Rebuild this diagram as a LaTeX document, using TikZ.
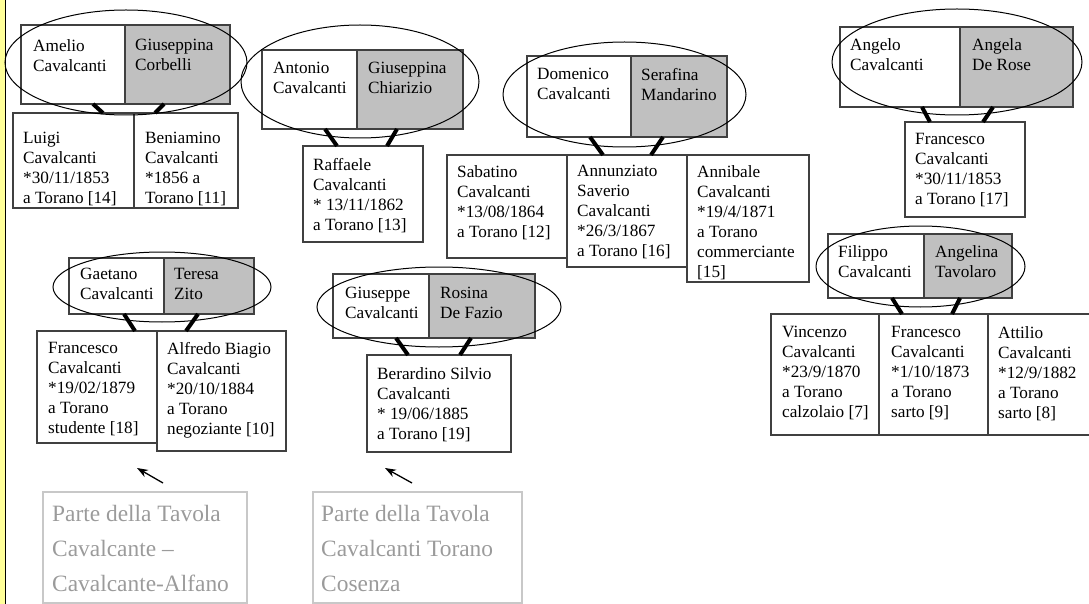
\documentclass[tikz,border=0pt]{standalone}
\usepackage{fontspec}
\setmainfont{Liberation Serif}
\usetikzlibrary{shapes.geometric,arrows.meta}
\definecolor{pale}{RGB}{255,255,153}
\definecolor{wifegray}{RGB}{192,192,192}
\definecolor{edgegray}{RGB}{64,64,64}
\definecolor{notegray}{RGB}{155,155,155}
\definecolor{noteedge}{RGB}{200,200,200}
\tikzset{
  pbox/.style={draw=edgegray,line width=1.3pt,anchor=north west,inner sep=0pt,outer sep=0pt,fill=white},
  wbox/.style={pbox,fill=wifegray},
  nbox/.style={draw=noteedge,line width=1.2pt,anchor=north west,inner sep=0pt,outer sep=0pt},
  txt/.style={anchor=north west,inner sep=0pt,align=left,font=\fontsize{17.2}{20}\selectfont},
  ntxt/.style={anchor=north west,inner sep=0pt,align=left,text=notegray,font=\fontsize{23.4}{35}\selectfont},
  ring/.style={ellipse,draw=black,line width=1pt,inner sep=0pt},
  kid/.style={line width=4pt,black},
  pointer/.style={line width=1.3pt,-{Stealth[length=11pt,width=8pt]}}
}
% name, style, x, y, w, h, dx, dy, text
\newcommand{\mybox}[9]{%
  \node[#2,minimum width=#5pt,minimum height=#6pt] (#1) at (#3,#4) {};
  \node[txt] (#1t) at ([shift={(#7,#8)}]#1.north west) {#9};}
\begin{document}
\begin{tikzpicture}[x=1pt,y=-1pt]
\useasboundingbox (0,0) rectangle (1089,604);
\fill[pale] (0,0) rectangle (5,604);
\draw[line width=1.5pt] (5.5,0) -- (5.5,604);

% ---------- Group 1
\mybox{a1}{pbox}{21}{25}{104}{79}{12}{14}{Amelio\\Cavalcanti}
\mybox{a2}{wbox}{125}{25}{105}{79}{10}{14}{Giuseppina\\Corbelli}
\mybox{a3}{pbox}{13}{113}{121}{95}{10}{19}{Luigi\\Cavalcanti\\*30/11/1853\\a Torano [14]}
\mybox{a4}{pbox}{134}{113}{104}{95}{11}{19}{Beniamino\\Cavalcanti\\*1856 a\\Torano [11]}
\node[ring,minimum width=242pt,minimum height=105pt] (ae) at (126,62.5) {};
\draw[kid] ([xshift=72pt]a1.south west) -- ([xshift=-31pt]a3.north east);
\draw[kid] ([xshift=39pt]a2.south west) -- ([xshift=21pt]a4.north west);

% ---------- Group 2
\mybox{b1}{pbox}{262}{50}{95}{79}{11}{12}{Antonio\\Cavalcanti}
\mybox{b2}{wbox}{357}{50}{106}{79}{11}{12}{Giuseppina\\Chiarizio}
\mybox{b3}{pbox}{303}{146}{120}{96}{10}{12}{Raffaele\\Cavalcanti\\* 13/11/1862\\a Torano [13]}
\node[ring,minimum width=238pt,minimum height=113pt] (be) at (360,81.5) {};
\draw[kid] ([xshift=63pt]b1.south west) -- ([xshift=34pt]b3.north west);
\draw[kid] ([xshift=40pt]b2.south west) -- ([xshift=84pt]b3.north west);

% ---------- Group 3
\mybox{d1}{pbox}{527}{56}{104}{81}{10}{12}{Domenico\\Cavalcanti}
\mybox{d2}{wbox}{631}{56}{96}{81}{10}{12}{Serafina\\Mandarino}
\mybox{d3}{pbox}{447}{155}{120}{103}{10}{10}{Sabatino\\Cavalcanti\\*13/08/1864\\a Torano [12]}
\mybox{d5}{pbox}{687}{155}{122}{127}{10}{10}{Annibale\\Cavalcanti\\*19/4/1871\\a Torano\\commerciante\\{[15]}}
\mybox{d4}{pbox}{567}{155}{120}{112}{10}{10}{Annunziato\\Saverio\\Cavalcanti\\*26/3/1867\\a Torano [16]}
\node[ring,minimum width=243pt,minimum height=105pt] (de) at (624.5,94.5) {};
\draw[kid] ([xshift=63pt]d1.south west) -- ([xshift=36pt]d4.north west);
\draw[kid] ([xshift=32pt]d2.south west) -- ([xshift=84pt]d4.north west);

% ---------- Group 4
\mybox{f1}{pbox}{840}{27}{120}{80}{10}{11}{Angelo\\Cavalcanti}
\mybox{f2}{wbox}{960}{27}{113}{80}{12}{11}{Angela\\De Rose}
\mybox{f3}{pbox}{905}{122}{120}{95}{10}{11}{Francesco\\Cavalcanti\\*30/11/1853\\a Torano [17]}
\node[ring,minimum width=250pt,minimum height=106pt] (fe) at (957,62) {};
\draw[kid] ([xshift=82pt]f1.south west) -- ([xshift=25pt]f3.north west);
\draw[kid] ([xshift=33pt]f2.south west) -- ([xshift=78pt]f3.north west);

% ---------- Group 5
\mybox{g1}{pbox}{828}{234}{96}{64}{10}{11}{Filippo\\Cavalcanti}
\mybox{g2}{wbox}{924}{234}{88}{64}{11}{11}{Angelina\\Tavolaro}
\mybox{g3}{pbox}{771}{314}{108}{121}{11}{12}{Vincenzo\\Cavalcanti\\*23/9/1870\\a Torano\\calzolaio [7]}
\mybox{g4}{pbox}{879}{314}{109}{121}{12}{12}{Francesco\\Cavalcanti\\*1/10/1873\\a Torano\\sarto [9]}
\mybox{g5}{pbox}{988}{314}{104}{121}{10}{12}{Attilio\\Cavalcanti\\*12/9/1882\\a Torano\\sarto [8]}
\node[ring,minimum width=209pt,minimum height=81pt] (ge) at (920.5,266.5) {};
\draw[kid] ([xshift=64pt]g1.south west) -- ([xshift=23pt]g4.north west);
\draw[kid] ([xshift=36pt]g2.south west) -- ([xshift=73pt]g4.north west);

% ---------- Group 6
\mybox{h1}{pbox}{69}{258}{95}{56}{11}{10}{Gaetano\\Cavalcanti}
\mybox{h2}{wbox}{164}{258}{90}{56}{10}{10}{Teresa\\Zito}
\mybox{h3}{pbox}{37}{331}{120}{112}{11}{11}{Francesco\\Cavalcanti\\*19/02/1879\\a Torano\\studente [18]}
\mybox{h4}{pbox}{157}{331}{129}{120}{10}{11}{Alfredo Biagio\\Cavalcanti\\*20/10/1884\\a Torano\\negoziante [10]}
\node[ring,minimum width=218pt,minimum height=70pt] (he) at (162,287) {};
\draw[kid] ([xshift=55pt]h1.south west) -- ([xshift=98pt]h3.north west);
\draw[kid] ([xshift=34pt]h2.south west) -- ([xshift=29pt]h4.north west);

% ---------- Group 7
\mybox{i1}{pbox}{333}{274}{96}{64}{12}{13}{Giuseppe\\Cavalcanti}
\mybox{i2}{wbox}{429}{274}{106}{64}{11}{13}{Rosina\\De Fazio}
\mybox{i3}{pbox}{367}{355}{144}{97}{10}{12}{Berardino Silvio\\Cavalcanti\\* 19/06/1885\\a Torano [19]}
\node[ring,minimum width=244pt,minimum height=80pt] (ie) at (439,307) {};
\draw[kid] ([xshift=63pt]i1.south west) -- ([xshift=41pt]i3.north west);
\draw[kid] ([xshift=42pt]i2.south west) -- ([xshift=93pt]i3.north west);

% ---------- Notes
\node[nbox,minimum width=204pt,minimum height=111pt] (n1) at (43,492) {};
\node[ntxt] (n1t) at ([shift={(9,13)}]n1.north west) {Parte della Tavola\\Cavalcante –\\Cavalcante-Alfano};
\node[nbox,minimum width=209pt,minimum height=111pt] (n2) at (313,492) {};
\node[ntxt] (n2t) at ([shift={(8,13)}]n2.north west) {Parte della Tavola\\Cavalcanti Torano\\Cosenza};
\coordinate (p1s) at (163,483);
\coordinate (p1e) at (137,468);
\coordinate (p2s) at (412,483);
\coordinate (p2e) at (385,468);
\draw[pointer] (p1s) -- (p1e);
\draw[pointer] (p2s) -- (p2e);
\end{tikzpicture}
\end{document}
